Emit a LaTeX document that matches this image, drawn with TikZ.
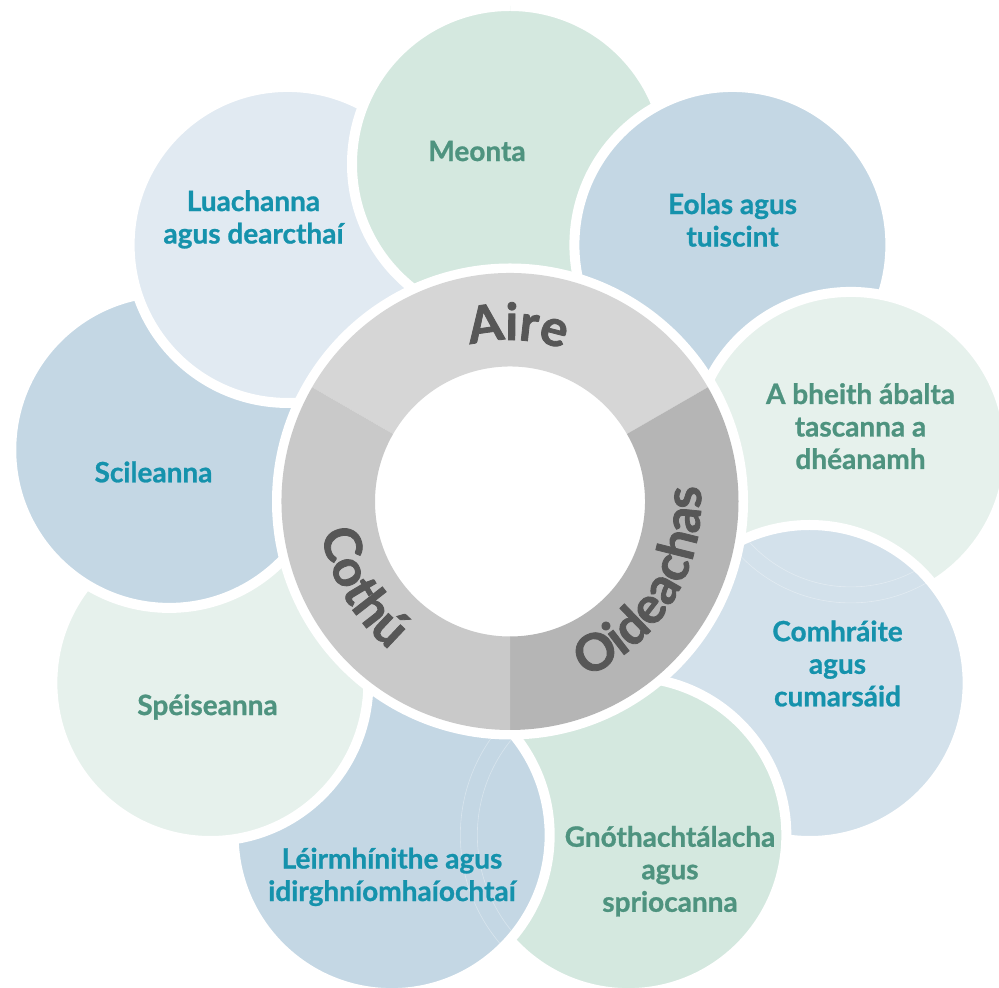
\documentclass[tikz,border=0pt]{standalone}
\usepackage{fontspec}
\setmainfont{Lato}[BoldFeatures={FakeBold=0.9}]
\newfontfamily\ringfam{Lato}[BoldFeatures={FakeBold=1.6}]
\usetikzlibrary{decorations.text}

\definecolor{pgreen}{HTML}{D4E8DF}
\definecolor{pblue}{HTML}{C4D7E4}
\definecolor{ppale}{HTML}{E6F1EC}
\definecolor{plight}{HTML}{D3E1EB}
\definecolor{pmist}{HTML}{E1EAF2}
\definecolor{tblue}{HTML}{1592AC}
\definecolor{tgreen}{HTML}{4E937F}
\definecolor{aire}{HTML}{D6D6D6}
\definecolor{oide}{HTML}{B5B5B5}
\definecolor{cothu}{HTML}{C9C9C9}
\definecolor{ringtext}{HTML}{575757}

\newcommand{\petalfont}{\fontsize{28}{32.5}\selectfont\bfseries}
\newcommand{\ringfont}{\ringfam\fontsize{51}{60}\selectfont\bfseries\color{ringtext}}

\tikzset{
    petal/.style={circle, draw=white, line width=10, minimum size=316, inner sep=0pt, outer sep=0pt},
    lbl/.style={font=\petalfont, align=center, inner sep=0pt},
    ghost/.style={white, opacity=0.35, line width=0.6},
    ringlabel/.style={decorate, decoration={text along path, text align=center, text={|\ringfont|#1}}}
}

\begin{document}
\begin{tikzpicture}[x=1pt,y=1pt]
    \useasboundingbox (0,0) rectangle (999,988);

    \begin{scope}[shift={(510,478)}]
        \foreach \a/\c [count=\i] in {90/pgreen, 50/pblue, 10/ppale, -30/plight, -70/pgreen, -110/pblue, -150/ppale, -190/pblue, -230/pmist}
            \node[petal, fill=\c] (p\i) at (\a:346) {};

        \begin{scope}
            \clip (-510,-478) rectangle (0,510);
            \node[petal, fill=pgreen] (p1top) at (90:346) {};
        \end{scope}
    \end{scope}

    \begin{scope}
        \clip (p4) circle (153);
        \draw[ghost] (p3) circle (153) (p3) circle (137);
    \end{scope}
    \begin{scope}
        \clip (p6) circle (153);
        \draw[ghost] (p5) circle (151) (p5) circle (168);
    \end{scope}

    \begin{scope}[shift={(510,486.5)}]
        \fill[white] (0,0) circle (238);
        \fill[aire] (30:228.5) arc[start angle=30, end angle=150, radius=228.5] -- (150:135) arc[start angle=150, end angle=30, radius=135] -- cycle;
        \fill[oide] (-90:228.5) arc[start angle=-90, end angle=30, radius=228.5] -- (30:135) arc[start angle=30, end angle=-90, radius=135] -- cycle;
        \fill[cothu] (150:228.5) arc[start angle=150, end angle=270, radius=228.5] -- (270:135) arc[start angle=270, end angle=150, radius=135] -- cycle;

        \path[ringlabel=Aire] (147.5:161.5) arc[start angle=147.5, end angle=27.5, radius=161.5];
        \path[ringlabel=Oideachas] (-91:191) arc[start angle=-91, end angle=29, radius=191];
        \path[ringlabel=Cothú] (150:191) arc[start angle=150, end angle=270, radius=191];
    \end{scope}

    \node[lbl, text=tgreen] (lmeonta) at (477,837) {Meonta};
    \node[lbl, text=tblue] (leolas) at (732.5,768) {Eolas agus\\tuiscint};
    \node[lbl, text=tgreen] (labalta) at (860.5,561.8) {A bheith ábalta\\tascanna a\\dhéanamh};
    \node[lbl, text=tblue] (lcomhra) at (837.5,324.5) {Comhráite\\agus\\cumarsáid};
    \node[lbl, text=tgreen] (lsprioc) at (670,116.8) {Gnóthachtálacha\\agus\\spriocanna};
    \node[lbl, text=tblue] (lleirm) at (392,111.1) {Léirmhínithe agus\\idirghníomhaíochtaí};
    \node[lbl, text=tgreen] (lspeis) at (207.5,281) {Spéiseanna};
    \node[lbl, text=tblue] (lscil) at (153.5,516) {Scileanna};
    \node[lbl, text=tblue] (lluach) at (253.5,768.6) {Luachanna\\agus dearcthaí};
\end{tikzpicture}
\end{document}
